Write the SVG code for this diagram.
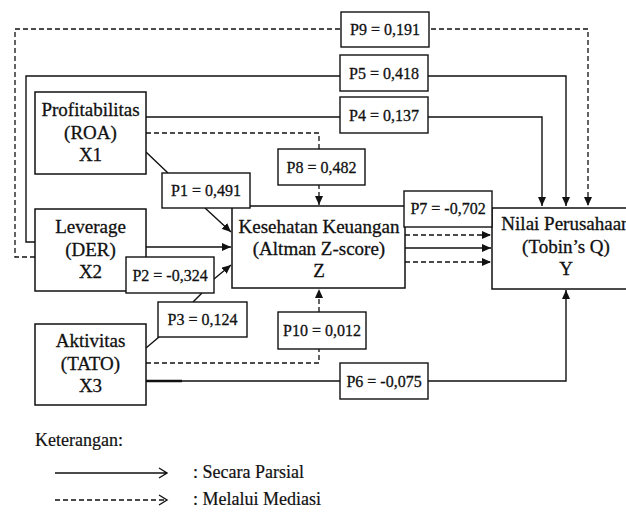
<svg xmlns="http://www.w3.org/2000/svg" width="626" height="512" viewBox="0 0 626 512">
<style>
.box{fill:#fff;stroke:#111;stroke-width:1.5}
.lbl{fill:#fff;stroke:#111;stroke-width:1.4}
.ln{fill:none;stroke:#111;stroke-width:1.4}
.ds{fill:none;stroke:#111;stroke-width:1.3;stroke-dasharray:5 3}
.nt{font-family:"Liberation Serif","Times New Roman",serif;font-size:19px;fill:#111;stroke:#111;stroke-width:0.3;text-anchor:middle}
.pt{font-family:"Liberation Serif","Times New Roman",serif;font-size:16px;fill:#111;stroke:#111;stroke-width:0.3;text-anchor:middle}
.lg{font-family:"Liberation Serif","Times New Roman",serif;font-size:18px;fill:#111;stroke:#111;stroke-width:0.2}
</style>
<defs>
<marker id="ah" markerUnits="userSpaceOnUse" markerWidth="10" markerHeight="8" refX="9" refY="4" orient="auto">
<path d="M0,0 L9,4 L0,8 z" fill="#111"/>
</marker>
</defs>
<rect width="626" height="512" fill="#fff"/>
<g id="connectors">
<path class="ds" d="M35,257 H15 V29 H588 V206" marker-end="url(#ah)"/>
<path class="ln" d="M35,242 H26 V76 H566 V206" marker-end="url(#ah)"/>
<path class="ln" d="M146,117 H542 V206" marker-end="url(#ah)"/>
<path class="ds" d="M146,133 H319 V205" marker-end="url(#ah)"/>
<path class="ln" d="M146,152 L168,173"/>
<path class="ln" d="M205,208 L231,232" marker-end="url(#ah)"/>
<path class="ln" d="M146,247 H231" marker-end="url(#ah)"/>
<path class="ln" d="M214,279 L231,265" marker-end="url(#ah)"/>
<path class="ln" d="M146,348 L159,337"/>
<path class="ln" d="M193,302 L202,293"/>
<path class="ds" d="M146,363 H319 V289" marker-end="url(#ah)"/>
<path class="ln" d="M146,381 H566 V290" marker-end="url(#ah)"/>
<path class="ln" style="stroke-width:2.4" d="M146,381 H182"/>
<path class="ds" d="M405,235 H491" marker-end="url(#ah)"/>
<path class="ln" d="M405,248 H491" marker-end="url(#ah)"/>
<path class="ds" d="M405,262 H491" marker-end="url(#ah)"/>
</g>
<g id="X1"><rect class="box" x="35" y="92" width="111" height="82"/>
<text class="nt" x="90.5" y="116">Profitabilitas</text><text class="nt" x="90.5" y="139">(ROA)</text><text class="nt" x="90.5" y="161">X1</text></g>
<g id="X2"><rect class="box" x="35" y="209" width="111" height="82"/>
<text class="nt" x="90.5" y="233">Leverage</text><text class="nt" x="90.5" y="256">(DER)</text><text class="nt" x="90.5" y="278">X2</text></g>
<g id="X3"><rect class="box" x="35" y="324" width="111" height="81"/>
<text class="nt" x="90.5" y="347">Aktivitas</text><text class="nt" x="90.5" y="370">(TATO)</text><text class="nt" x="90.5" y="392">X3</text></g>
<g id="Z"><rect class="box" x="232" y="206" width="173" height="82"/>
<text class="nt" x="319" y="233">Kesehatan Keuangan</text><text class="nt" x="319" y="255">(Altman Z-score)</text><text class="nt" x="319" y="277">Z</text></g>
<g id="Y"><rect class="box" x="492" y="208" width="160" height="81"/>
<text class="nt" x="566" y="230">Nilai Perusahaan</text><text class="nt" x="566" y="253">(Tobin’s Q)</text><text class="nt" x="566" y="275">Y</text></g>
<g id="labels">
<g id="P9"><rect class="lbl" x="341" y="12" width="88" height="35"/><text class="pt" x="385" y="35">P9 = 0,191</text></g>
<g id="P5"><rect class="lbl" x="340" y="55" width="88" height="36"/><text class="pt" x="384" y="79">P5 = 0,418</text></g>
<g id="P4"><rect class="lbl" x="340" y="97" width="88" height="36"/><text class="pt" x="384" y="121">P4 = 0,137</text></g>
<g id="P8"><rect class="lbl" x="278" y="149" width="87" height="36"/><text class="pt" x="321.5" y="173">P8 = 0,482</text></g>
<g id="P1"><rect class="lbl" x="162" y="173" width="88" height="35"/><text class="pt" x="206" y="196">P1 = 0,491</text></g>
<g id="P7"><rect class="lbl" x="404" y="191" width="88" height="36"/><text class="pt" x="448" y="214">P7 = -0,702</text></g>
<g id="P2"><rect class="lbl" x="126" y="257" width="88" height="36"/><text class="pt" x="170" y="281">P2 = -0,324</text></g>
<g id="P3"><rect class="lbl" x="158" y="302" width="89" height="35"/><text class="pt" x="202.5" y="325">P3 = 0,124</text></g>
<g id="P10"><rect class="lbl" x="278" y="312" width="88" height="37"/><text class="pt" x="322" y="336">P10 = 0,012</text></g>
<g id="P6"><rect class="lbl" x="340" y="363" width="88" height="36"/><text class="pt" x="384" y="387">P6 = -0,075</text></g>
</g>
<g id="legend">
<text class="lg" x="35" y="446">Keterangan:</text>
<path class="ln" d="M55,473 H166 M159,468 L167,473 L159,478"/>
<text class="lg" x="193" y="478">: Secara Parsial</text>
<path class="ds" d="M55,500 H164"/>
<path class="ln" d="M159,495 L167,500 L159,505"/>
<text class="lg" x="193" y="505">: Melalui Mediasi</text>
</g>
</svg>
